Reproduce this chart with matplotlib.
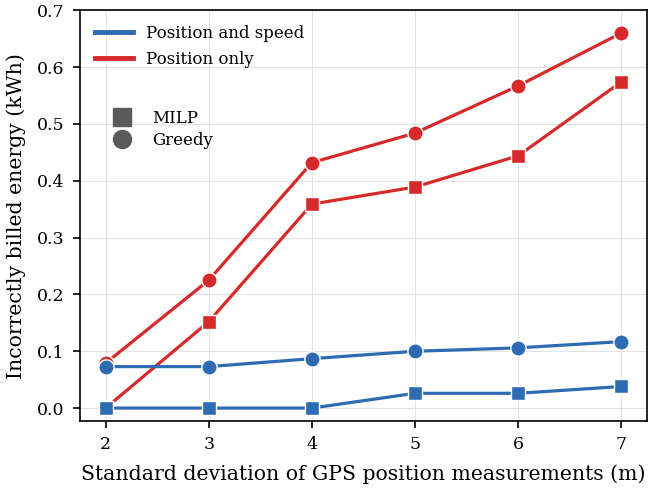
import numpy as np
import matplotlib
matplotlib.use("Agg")
from matplotlib import pyplot as plt
from matplotlib.lines import Line2D

plt.rcParams['font.family'] = ['DejaVu Serif']

# datos
sd = [2, 3, 4, 5, 6, 7]
speed_milp = [0.0, 0.0, 0.0, 0.026, 0.026, 0.038]
speed_greedy = [0.073, 0.073, 0.087, 0.100, 0.106, 0.117]
pos_milp = [0.0, 0.152, 0.359, 0.389, 0.444, 0.574]
pos_greedy = [0.079, 0.225, 0.432, 0.484, 0.567, 0.660]

blue = "#2f6bb3"
red = "#d62a2a"

fig, ax = plt.subplots(figsize=(6.49, 4.92), dpi=100)
fig.subplots_adjust(left=0.123, right=0.997, top=0.979, bottom=0.144)

def serie(y, c, m, ms):
    ax.plot(sd, y, color=c, lw=2.3, marker=m, ms=ms, mec="white", mew=1.0, zorder=3)

serie(pos_greedy, red, "o", 11)
serie(pos_milp, red, "s", 10.5)
serie(speed_greedy, blue, "o", 11)
serie(speed_milp, blue, "s", 10.5)

ax.set_xlim(1.75, 7.25)
ax.set_ylim(-0.023, 0.7)
ax.set_xticks(sd)
ax.set_yticks(np.arange(0, 0.71, 0.1))
ax.grid(True, color="#e3e3e3", lw=0.8)
ax.set_axisbelow(True)
for s in ax.spines.values():
    s.set_linewidth(1.2)
ax.tick_params(labelsize=12.5, length=5, width=1.2, pad=6)
ax.set_xlabel("Standard deviation of GPS position measurements (m)", fontsize=14.7, labelpad=8)
ax.set_ylabel("Incorrectly billed energy (kWh)", fontsize=14.7, labelpad=8)

h1 = [Line2D([], [], color=blue, lw=3.5), Line2D([], [], color=red, lw=3.5)]
leg1 = ax.legend(h1, ["Position and speed", "Position only"], loc="upper left",
                 frameon=False, fontsize=12, handlelength=2.3, labelspacing=0.5)
ax.add_artist(leg1)

h2 = [Line2D([], [], color="#5a5a5a", marker="s", ls="", ms=13),
      Line2D([], [], color="#5a5a5a", marker="o", ls="", ms=13)]
ax.legend(h2, ["MILP", "Greedy"], loc="upper left", bbox_to_anchor=(0.018, 0.794),
          frameon=False, fontsize=12, handlelength=2.0, labelspacing=0.3)

plt.savefig("out.png", dpi=100)
